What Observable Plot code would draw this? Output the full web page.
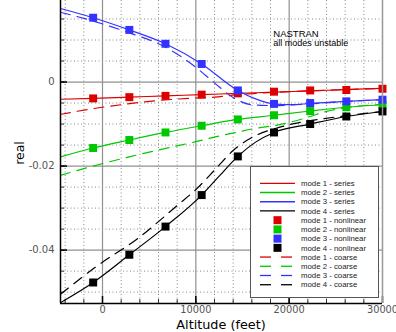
<!DOCTYPE html>
<html><head><meta charset="utf-8">
<script src="https://cdn.jsdelivr.net/npm/d3@7"></script>
<script src="https://cdn.jsdelivr.net/npm/@observablehq/plot@0.6"></script>
<style>body{margin:0;background:#fff}</style>
</head><body><div id="chart"></div>
<script>
// nonlinear sample altitudes (feet)
const altitudes = [-1000, 2875, 6750, 10625, 14500, 18375, 22250, 26125, 30000];
const mode1Nonlinear = [-0.0039, -0.0036, -0.0033, -0.0030, -0.0027, -0.0023, -0.0020, -0.0019, -0.0016];
const mode2Nonlinear = [-0.0157, -0.0138, -0.0120, -0.0104, -0.0089, -0.0079, -0.0069, -0.0060, -0.0054];
const mode3Nonlinear = [0.0153, 0.0124, 0.0091, 0.0043, -0.0020, -0.0052, -0.0050, -0.0046, -0.0042];
const mode4Nonlinear = [-0.0477, -0.0411, -0.0344, -0.0269, -0.0177, -0.0120, -0.0100, -0.0082, -0.0070];

// series curves
const mode1SeriesX = [-4500, -1000, 2875, 6750, 10625, 14500, 18375, 22250, 26125, 30000];
const mode1SeriesY = [-0.0041, -0.0039, -0.0036, -0.0033, -0.0030, -0.0027, -0.0024, -0.0021, -0.0018, -0.0015];
const mode2SeriesX = [-4500, -1000, 2875, 6750, 10625, 14500, 18375, 22250, 26125, 30000];
const mode2SeriesY = [-0.0178, -0.0157, -0.0138, -0.0120, -0.0104, -0.0089, -0.0079, -0.0069, -0.0060, -0.0054];
const mode3SeriesX = [-4500, -1000, 2875, 6750, 10625, 14500, 16400, 18375, 20300, 22250, 26125, 30000];
const mode3SeriesY = [0.0175, 0.0153, 0.0124, 0.0091, 0.0043, -0.0020, -0.0040, -0.0052, -0.0054, -0.0051, -0.0046, -0.0042];
const mode4SeriesX = [-4500, -1000, 2875, 6750, 10625, 12500, 14500, 16400, 18375, 22250, 26125, 30000];
const mode4SeriesY = [-0.0525, -0.0477, -0.0411, -0.0344, -0.0269, -0.0224, -0.0177, -0.0143, -0.0120, -0.0100, -0.0082, -0.0070];

// coarse curves
const mode1CoarseX = [-4500, -1500, 2000, 6000, 10000, 12000, 14500, 16500, 19000, 22250, 26125, 30000];
const mode1CoarseY = [-0.0077, -0.0065, -0.0054, -0.0044, -0.0038, -0.0036, -0.0030, -0.0027, -0.0024, -0.0021, -0.0018, -0.0015];
const mode2CoarseX = [-4500, -1000, 2875, 6750, 10000, 12000, 14300, 16450, 18600, 20400, 22250, 24000, 26125, 30000];
const mode2CoarseY = [-0.0222, -0.0200, -0.0178, -0.0158, -0.0142, -0.0131, -0.0120, -0.0110, -0.0103, -0.0094, -0.0082, -0.0070, -0.0061, -0.0053];
const mode3CoarseX = [-4500, -1000, 2875, 6750, 10000, 12000, 14000, 16000, 18375, 22250, 26125, 30000];
const mode3CoarseY = [0.0166, 0.0145, 0.0117, 0.0083, 0.0035, -0.0002, -0.0037, -0.0054, -0.0056, -0.0052, -0.0046, -0.0042];
const mode4CoarseX = [-4500, -600, 3800, 8200, 10000, 12150, 14000, 16450, 18600, 20500, 22250, 26125, 30000];
const mode4CoarseY = [-0.0505, -0.0438, -0.0372, -0.0290, -0.0256, -0.0206, -0.0163, -0.0127, -0.0110, -0.0099, -0.0092, -0.0080, -0.0070];

const xTicks = [0, 10000, 20000, 30000];
const yTicks = [0, -0.02, -0.04];
const xMinor = d3.range(-4000, 30001, 2000);
const yMinor = d3.range(-0.05, 0.0151, 0.005).map(v => +v.toFixed(4));
const modeColors = ["#dd0000", "#00c800", "#3333ff", "#000000"];
const legendLabels = [
  "mode 1 - series", "mode 2 - series", "mode 3 - series", "mode 4 - series",
  "mode 1 - nonlinear", "mode 2 - nonlinear", "mode 3 - nonlinear", "mode 4 - nonlinear",
  "mode 1 - coarse", "mode 2 - coarse", "mode 3 - coarse", "mode 4 - coarse"
];

const xDomain = [-4500, 30000];
const yDomain = [-0.0527, 0.0194];

const zip = (xs, ys) => xs.map((x, i) => ({x, y: ys[i]}));
const seriesSets = [zip(mode1SeriesX, mode1SeriesY), zip(mode2SeriesX, mode2SeriesY), zip(mode3SeriesX, mode3SeriesY), zip(mode4SeriesX, mode4SeriesY)];
const coarseSets = [zip(mode1CoarseX, mode1CoarseY), zip(mode2CoarseX, mode2CoarseY), zip(mode3CoarseX, mode3CoarseY), zip(mode4CoarseX, mode4CoarseY)];
const nonlinSets = [mode1Nonlinear, mode2Nonlinear, mode3Nonlinear, mode4Nonlinear].map(ys => zip(altitudes, ys));

const font = "Liberation Sans, Arial, Helvetica, sans-serif";
const axisFont = "DejaVu Sans, sans-serif";
const majorX = xTicks.filter(v => v < 30000);
const dxTick = (xDomain[1] - xDomain[0]);
const dyTick = (yDomain[1] - yDomain[0]);

const marks = [
  Plot.ruleX(xMinor.filter(v => v % 10000 !== 0), {stroke: "#888", strokeDasharray: "1,2.5", strokeWidth: 1}),
  Plot.ruleY(yMinor.filter(v => Math.abs(v % 0.02) > 1e-6), {stroke: "#888", strokeDasharray: "1,2.5", strokeWidth: 1}),
  Plot.ruleX(majorX, {stroke: "#909090", strokeWidth: 1.2}),
  Plot.ruleY(yTicks, {stroke: "#909090", strokeWidth: 1.2}),
  // inward ticks
  Plot.ruleY(yMinor, {x1: xDomain[0], x2: xDomain[0] + dxTick * 4 / 322, stroke: "#333"}),
  Plot.ruleY(yTicks, {x1: xDomain[0], x2: xDomain[0] + dxTick * 7 / 322, stroke: "#000", strokeWidth: 1.5}),
  Plot.ruleX(xMinor, {y1: yDomain[0], y2: yDomain[0] + dyTick * 4 / 303, stroke: "#333"}),
  Plot.ruleX(xTicks, {y1: yDomain[0], y2: yDomain[0] + dyTick * 7 / 303, stroke: "#000", strokeWidth: 1.5}),
];
coarseSets.forEach((d, i) => marks.push(Plot.line(d, {x: "x", y: "y", stroke: modeColors[i], strokeWidth: 1.2, strokeDasharray: "10,7", curve: "monotone-x", clip: true})));
seriesSets.forEach((d, i) => marks.push(Plot.line(d, {x: "x", y: "y", stroke: modeColors[i], strokeWidth: 1.2, curve: "monotone-x", clip: true})));
nonlinSets.forEach((d, i) => marks.push(Plot.dot(d, {x: "x", y: "y", symbol: "square", r: 4.5, fill: modeColors[i], stroke: "none"})));
marks.push(
  Plot.ruleX([xDomain[0]], {stroke: "#000", strokeWidth: 1.5}),
  Plot.ruleY([yDomain[0]], {stroke: "#000", strokeWidth: 1.5}),
  Plot.ruleX([xDomain[1]], {stroke: "#999", strokeWidth: 1.5}),
  Plot.text(["NASTRAN"], {x: 18300, y: 0.0115, text: d => d, textAnchor: "start", fontSize: 9.5, fill: "#000"}),
  Plot.text(["all modes unstable"], {x: 18300, y: 0.0093, text: d => d, textAnchor: "start", fontSize: 9, fill: "#000"}),
  Plot.axisX(xTicks, {tickSize: 0, tickPadding: 3, fontSize: 9.8, fontFamily: axisFont, fill: "#555", label: null, tickFormat: d => String(d)}),
  Plot.axisY(yTicks, {tickSize: 0, tickPadding: 6, fontSize: 10, fontFamily: axisFont, fill: "#555", label: null, tickFormat: d => d === 0 ? "0" : d.toFixed(2).replace("\u2212", "-")})
);

const chart = Plot.plot({
  width: 396, height: 332,
  marginTop: 0, marginRight: 14, marginBottom: 29, marginLeft: 60,
  x: {domain: xDomain},
  y: {domain: yDomain},
  style: {fontFamily: font, background: "#fff"},
  marks
});
document.getElementById("chart").append(chart);

const svg = d3.select(chart);
svg.append("text").attr("x", 221).attr("y", 328.5).attr("text-anchor", "middle")
  .attr("font-size", 12.8).attr("font-family", axisFont).attr("fill", "#000").text("Altitude (feet)");
svg.append("text").attr("transform", "translate(24,153) rotate(-90)").attr("text-anchor", "middle")
  .attr("font-size", 12.5).attr("font-family", axisFont).attr("fill", "#000").text("real");

// legend
const lg = svg.append("g").attr("font-family", font).attr("text-anchor", "start");
lg.append("rect").attr("x", 250.5).attr("y", 166.5).attr("width", 128).attr("height", 131)
  .attr("fill", "#fff").attr("stroke", "#555").attr("stroke-width", 1);
legendLabels.forEach((lab, i) => {
  const y = 183.3 + i * 9.22;
  const c = modeColors[i % 4];
  if (i < 4) {
    lg.append("line").attr("x1", 260).attr("x2", 295).attr("y1", y).attr("y2", y).attr("stroke", c).attr("stroke-width", 1.3);
  } else if (i < 8) {
    lg.append("rect").attr("x", 273.5).attr("y", y - 4).attr("width", 8).attr("height", 8).attr("fill", c);
  } else {
    lg.append("line").attr("x1", 260).attr("x2", 271).attr("y1", y).attr("y2", y).attr("stroke", c).attr("stroke-width", 1.3);
    lg.append("line").attr("x1", 281).attr("x2", 292).attr("y1", y).attr("y2", y).attr("stroke", c).attr("stroke-width", 1.3);
  }
  lg.append("text").attr("x", 301).attr("y", y).attr("dy", "0.35em").attr("text-anchor", "start")
    .attr("font-size", 7.8).attr("fill", "#222").text(lab);
});
</script></body></html>
